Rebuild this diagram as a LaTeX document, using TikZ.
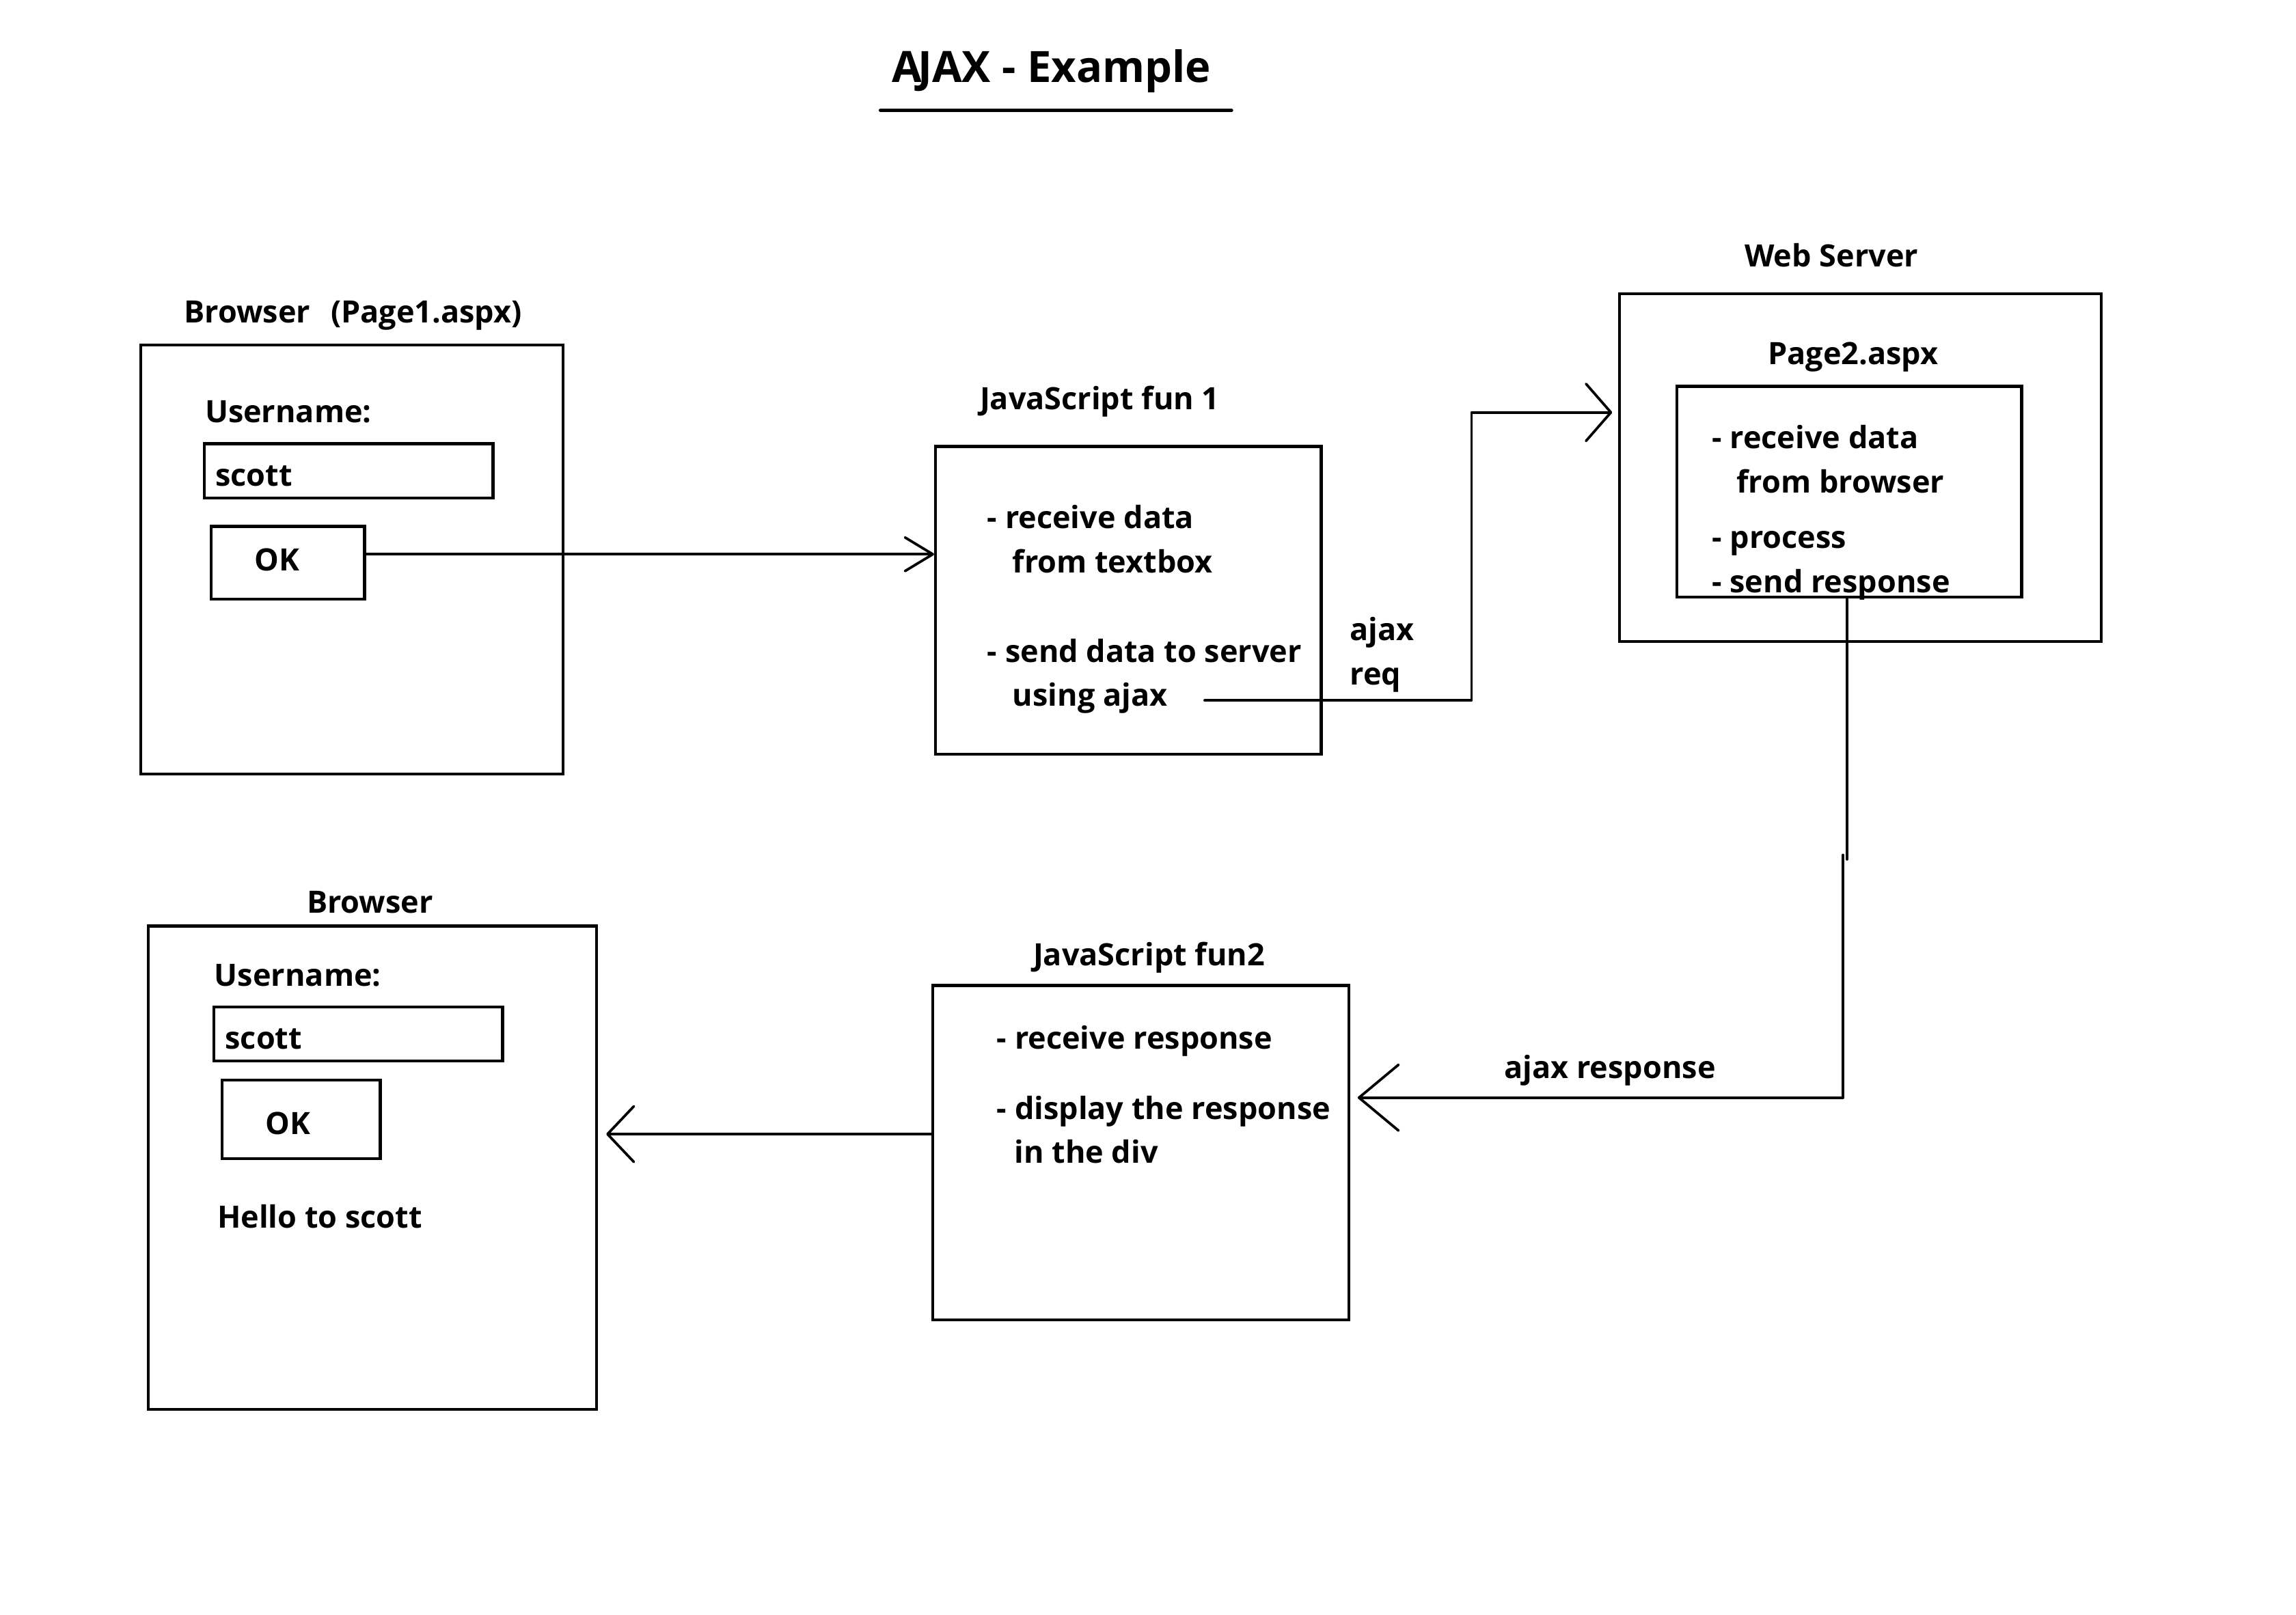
\documentclass[tikz,border=0pt]{standalone}
\usepackage{fontspec}
\setmainfont{Open Sans}
\usetikzlibrary{arrows.meta,calc}
\begin{document}
\begin{tikzpicture}[x=1pt,y=-1pt,
  box/.style={draw, line width=2.1pt, inner sep=0pt, outer sep=0pt},
  conn/.style={line width=1.75pt, line cap=round, line join=round},
  txt/.style={inner sep=0pt, outer sep=0pt, font=\fontsize{21}{26}\selectfont\bfseries, anchor=base west},
  ctxt/.style={txt, anchor=base},
  ttl/.style={inner sep=0pt, outer sep=0pt, font=\fontsize{29.5}{34}\selectfont\bfseries, anchor=base}]
\useasboundingbox[fill=white] (0,0) rectangle (1568,1103);

% title
\node[ttl] (title) at (718,56) {A\kern-2.5pt JAX - Example};
\draw[line width=2.4pt, line cap=round] (601.3,75.4) -- (841,75.4);

% browser 1
\node[txt] (b1lbl) at (125.8,220.6) {Browser\hspace{14pt}(Page1.aspx)};
\node[box, minimum width=288.3pt, minimum height=293.1pt] (B1) at (240.35,382.25) {};
\node[txt] (u1) at (140,288.5) {Username:};
\node[box, minimum width=197.3pt, minimum height=37pt] (TB1) at (238.15,321.7) {};
\node[txt] (s1) at (147.2,332) {scott};
\node[box, minimum width=104.7pt, minimum height=49.7pt] (OK1) at (196.65,384.35) {};
\node[ctxt] (ok1t) at (189.1,389.9) {OK};

% javascript fun 1
\node[txt] (js1lbl) at (669.2,279.6) {JavaScript fun 1};
\node[box, minimum width=263.5pt, minimum height=210.3pt] (JS1) at (770.65,410.15) {};
\node[txt] (js1a) at (674.3,361.1) {- receive data};
\node[txt] (js1b) at (691.5,391.5) {from textbox};
\node[txt] (js1c) at (674.3,452.3) {- send data to server};
\node[txt] (js1d) at (691.5,482.5) {using ajax};
\node[txt] (req1) at (922,437.6) {ajax};
\node[txt] (req2) at (922,467.8) {req};

% web server
\node[ctxt] (wslbl) at (1250.75,182.3) {Web Server};
\node[box, minimum width=329pt, minimum height=237.5pt] (WS) at (1270.5,319.45) {};
\node[ctxt] (p2lbl) at (1265.5,248.8) {Page2.aspx};
\node[box, minimum width=235.4pt, minimum height=143.9pt] (P2) at (1263,335.85) {};
\node[txt] (p2a) at (1169.2,306.3) {- receive data};
\node[txt] (p2b) at (1186,336.7) {from browser};
\node[txt] (p2c) at (1169.2,374.6) {- process};
\node[txt] (p2d) at (1169.2,405) {- send response};

% browser 2
\node[ctxt] (b2lbl) at (252.7,623.5) {Browser};
\node[box, minimum width=306.2pt, minimum height=330.2pt] (B2) at (254.4,797.7) {};
\node[txt] (u2) at (146.5,673.5) {Username:};
\node[box, minimum width=197.3pt, minimum height=36.9pt] (TB2) at (244.65,706.25) {};
\node[txt] (s2) at (153.8,716.4) {scott};
\node[box, minimum width=107.9pt, minimum height=53.6pt] (OK2) at (205.65,764.6) {};
\node[ctxt] (ok2t) at (196.5,774.7) {OK};
\node[txt] (hello) at (148.5,839) {Hello to scott};

% javascript fun 2
\node[ctxt] (js2lbl) at (784.7,659.7) {JavaScript fun2};
\node[box, minimum width=284.2pt, minimum height=228.5pt] (JS2) at (779.1,787.35) {};
\node[txt] (js2a) at (680.8,716.5) {- receive response};
\node[txt] (js2b) at (680.8,764.7) {- display the response};
\node[txt] (js2c) at (692.8,794.5) {in the div};
\node[ctxt] (resp) at (1099.5,736.5) {ajax response};

% connectors
\coordinate (r1) at (0,378.6);
\draw[conn, -{Straight Barb[round, length=19pt, width=23pt]}, shorten >=1pt]
  (OK1.east |- r1) -- (JS1.west |- r1);

\coordinate (c2s) at (822.7,478.5);
\coordinate (c2m) at (1004.9,478.5);
\coordinate (r2) at (0,281.7);
\draw[conn, -{Straight Barb[round, length=17pt, width=39pt]}, shorten >=5pt]
  (c2s) -- (c2m) -- (c2m |- r2) -- (WS.west |- r2);

\coordinate (j1) at (1261.4,587);
\coordinate (j2) at (1258.6,584);
\coordinate (r3) at (0,749.8);
\draw[conn] (j1 |- P2.south) -- (j1);
\draw[conn, -{Straight Barb[round, length=27pt, width=45pt]}, shorten >=6pt]
  (j2) -- (j2 |- r3) -- (JS2.east |- r3);

\coordinate (r4) at (0,774.7);
\draw[conn, -{Straight Barb[round, length=18pt, width=38pt]}, shorten >=6.5pt]
  (JS2.west |- r4) -- (B2.east |- r4);
\end{tikzpicture}
\end{document}
